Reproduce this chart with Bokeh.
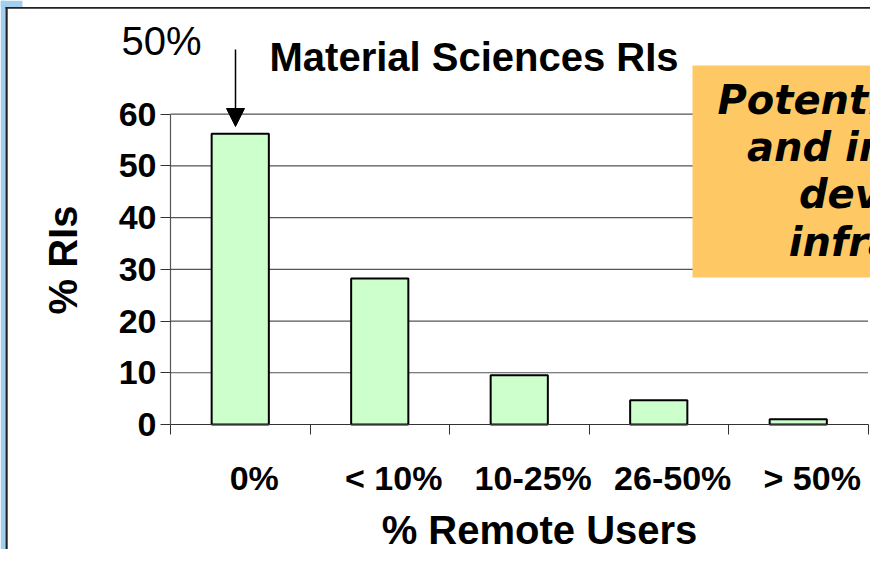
import math
from bokeh.plotting import figure
from bokeh.models import (Range1d, FixedTicker, Label, Arrow, NormalHead,
                          BoxAnnotation, ColumnDataSource)
from bokeh.embed import file_html
from bokeh.resources import INLINE

# ---- data ----
categories = ["0%", "< 10%", "10-25%", "26-50%", "> 50%"]
pct_ris = [56.2, 28.2, 9.5, 4.7, 1.0]
y_ticks = [0, 10, 20, 30, 40, 50, 60]
title_text = "Material Sciences RIs"
y_title = "% RIs"
x_title = "% Remote Users"
note_text = "50%"
box_lines = ["Potential for growth", "and improvement", "development", "infrastructure"]

# ---- geometry helpers (picture pixel -> data) ----
PX_X = 139.5   # px per category
PX_Y = 5.173   # px per percent
def dx(px):
    return 0.5 + (px - 170) / PX_X
def dy(py):
    return (424 - py) / PX_Y

SHIFT = 16  # label baseline correction (px)

W, H = 870, 549
p = figure(width=W, height=H, output_backend="svg", toolbar_location=None,
           x_range=Range1d(dx(0), dx(W)), y_range=Range1d(dy(H), dy(0)),
           min_border=0)
p.outline_line_color = None
p.background_fill_color = "white"
p.border_fill_color = "white"
p.grid.visible = False

FONT = "Liberation Sans"
n = len(categories)
xs = [i + 1 for i in range(n)]
bounds = [i + 0.5 for i in range(n + 1)]
label_ticks = [x + 0.1 for x in xs]

# gridlines
grid_vals = y_ticks[1:]
p.segment(x0=[bounds[0]] * len(grid_vals), x1=[bounds[-1]] * len(grid_vals),
          y0=grid_vals, y1=grid_vals, line_color="#555555", line_width=1.2)

# bars
src = ColumnDataSource(dict(x=xs, top=pct_ris))
p.vbar(x="x", top="top", bottom=0, width=0.41, source=src,
       fill_color="#CCFFCC", line_color="black", line_width=2)

# x axis
xa = p.xaxis[0]
xa.fixed_location = 0
xa.bounds = (bounds[0], bounds[-1])
xa.ticker = FixedTicker(ticks=label_ticks, minor_ticks=bounds)
xa.major_label_overrides = {t: c for t, c in zip(label_ticks, categories)}
xa.major_tick_out = 0
xa.major_tick_in = 0
xa.minor_tick_out = 10
xa.minor_tick_in = 0
xa.minor_tick_line_color = "#333333"
xa.axis_line_color = "#333333"
xa.axis_line_width = 1.2
xa.major_label_text_font = FONT
xa.major_label_text_font_size = "34px"
xa.major_label_text_font_style = "bold"
xa.major_label_text_color = "black"
xa.major_label_standoff = 24

# y axis
ya = p.yaxis[0]
ya.fixed_location = bounds[0]
ya.bounds = (y_ticks[0], y_ticks[-1])
ya.ticker = FixedTicker(ticks=y_ticks)
ya.major_tick_out = 10
ya.major_tick_in = 0
ya.minor_tick_out = 0
ya.minor_tick_in = 0
ya.major_tick_line_color = "#333333"
ya.axis_line_color = "#555555"
ya.axis_line_width = 1.2
ya.major_label_text_font = FONT
ya.major_label_text_font_size = "34px"
ya.major_label_text_font_style = "bold"
ya.major_label_text_color = "black"
ya.major_label_standoff = 4

# slide background pieces (left blue strip and frame lines)
BLUE = "#A3CFEF"
p.add_layout(BoxAnnotation(right=dx(5), fill_color=BLUE, fill_alpha=1.0, line_color=None))
p.add_layout(BoxAnnotation(right=dx(22), bottom=dy(6.5), fill_color=BLUE, fill_alpha=1.0, line_color=None))
p.add_layout(BoxAnnotation(left=dx(5), top=dy(6.5), bottom=dy(8.3), fill_color="#222222",
                           fill_alpha=1.0, line_color=None))
p.add_layout(BoxAnnotation(left=dx(5), right=dx(7.2), top=dy(6.5), fill_color="#222222",
                           fill_alpha=1.0, line_color=None))

# axis titles
p.add_layout(Label(x=dx(539), y=dy(545 - SHIFT), text=x_title, text_align="center",
                   text_baseline="alphabetic", text_font=FONT, text_font_size="40px",
                   text_font_style="bold", text_color="black"))
p.add_layout(Label(x=dx(80 - SHIFT - 2), y=dy(259.5), text=y_title, angle=math.pi / 2,
                   text_align="center", text_baseline="alphabetic", text_font=FONT,
                   text_font_size="40px", text_font_style="bold", text_color="black"))

# chart title
p.add_layout(Label(x=dx(269), y=dy(72 - SHIFT), text=title_text, text_align="left",
                   text_baseline="alphabetic", text_font=FONT, text_font_size="40px",
                   text_font_style="bold", text_color="black"))

# 50% note and arrow
p.add_layout(Label(x=dx(121), y=dy(56 - SHIFT), text=note_text, text_align="left",
                   text_baseline="alphabetic", text_font=FONT, text_font_size="40px",
                   text_font_style="normal", text_color="black"))
p.add_layout(Arrow(end=NormalHead(size=18, fill_color="black", line_color="black"),
                   x_start=dx(235), y_start=dy(49), x_end=dx(235), y_end=dy(126),
                   line_color="black", line_width=1.5))

# orange call-out box
p.add_layout(BoxAnnotation(left=dx(692), top=dy(65), bottom=dy(277),
                           fill_color="#FEC864", fill_alpha=1.0, line_color=None))
for txt, base in zip(box_lines, [115, 162, 209, 257]):
    p.add_layout(Label(x=dx(946), y=dy(base - SHIFT), text=txt, text_align="center",
                       text_baseline="alphabetic", text_font="DejaVu Sans",
                       text_font_size="40px", text_font_style="bold italic",
                       text_color="black"))

open("out.html", "w").write(file_html(p, INLINE))
